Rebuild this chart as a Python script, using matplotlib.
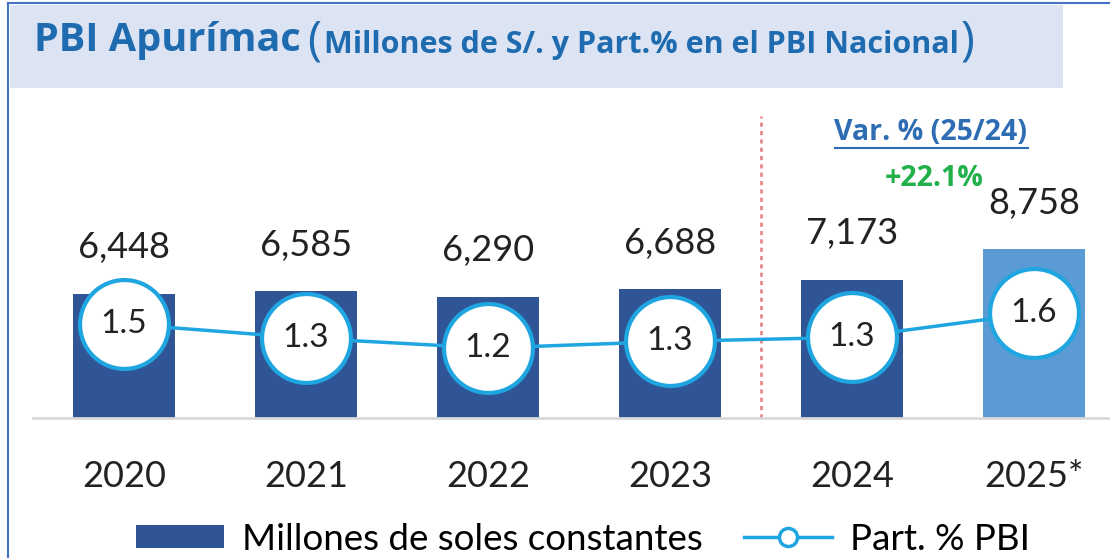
import matplotlib
matplotlib.use("Agg")
import matplotlib.pyplot as plt
from matplotlib.patches import Rectangle
from matplotlib.lines import Line2D

plt.rcParams['font.family'] = ['Lato', 'DejaVu Sans']

# datos
years = ['2020', '2021', '2022', '2023', '2024', '2025*']
pbi = [6448, 6585, 6290, 6688, 7173, 8758]
part = [1.50, 1.33, 1.21, 1.29, 1.34, 1.63]
part_labels = ['1.5', '1.3', '1.2', '1.3', '1.3', '1.6']
var_label = '+22.1%'

dark = '#2F5597'
light = '#5B9BD5'
line_col = '#1FA5DF'
title_col = '#1E6BB0'

fig = plt.figure(figsize=[11.1, 5.58], dpi=100)
W, H = 1110, 558

def fx(px):
    return px / W

def fy(py):
    return 1 - py / H

# banner del titulo
fig.patches.append(Rectangle((fx(10), fy(88)), fx(1053), 83 / H, transform=fig.transFigure,
                             facecolor='#DCE3F3', edgecolor='none', zorder=0))
fig.add_artist(Line2D([fx(8), 1], [fy(3), fy(3)], color='#4472C4', lw=1.5))
fig.add_artist(Line2D([fx(8), fx(8)], [fy(3), 0], color='#4472C4', lw=1.5))

fig.canvas.draw()
rend = fig.canvas.get_renderer()

def after(t, gap):
    return t.get_window_extent(rend).x1 / W + gap / W

t1 = fig.text(fx(34), fy(40), 'PBI Apurímac', fontsize=28.5, fontweight='bold', color=title_col,
              va='center', family='Open Sans')
t2 = fig.text(after(t1, 6), fy(42), '(', fontsize=34, color=title_col, va='center', family='Open Sans')
t3 = fig.text(after(t2, 3), fy(45), 'Millones de S/. y Part.% en el PBI Nacional', fontsize=22,
              fontweight='bold', color=title_col, va='center', family='Open Sans')
t4 = fig.text(after(t3, 2), fy(42), ')', fontsize=34, color=title_col, va='center', family='Open Sans')

# grafico
ax = fig.add_axes([fx(33), fy(418), 1 - fx(33), (418 - 95) / H])
x = list(range(len(years)))
colors = [dark] * 5 + [light]
ax.bar(x, pbi, width=0.565, color=colors, zorder=2)
ax.set_xlim(-0.5, 5.418)
ax.set_ylim(0, 16735)
for s in ['top', 'right', 'left']:
    ax.spines[s].set_visible(False)
ax.spines['bottom'].set_color('#D9D9D9')
ax.spines['bottom'].set_linewidth(2)
ax.set_yticks([])
ax.set_xticks(x)
ax.set_xticklabels(years, fontsize=26, color='#222222')
ax.tick_params(axis='x', length=0, pad=30)

for i, v in enumerate(pbi):
    ax.annotate(f'{v:,}', (i, v), xytext=(0, 21), textcoords='offset points',
                ha='center', va='bottom', fontsize=26, color='#222222')

ax2 = ax.twinx()
ax2.set_ylim(0.367, 4.26)
ax2.axis('off')
ax2.plot(x, part, color=line_col, lw=2.5, marker='o', ms=64, mfc='white',
         mec=line_col, mew=3, zorder=3)
for i, v in enumerate(part):
    ax2.text(i, v, part_labels[i], ha='center', va='center', fontsize=24, color='#222222', zorder=4)

# linea divisoria
ax.axvline(3.5, ymin=0, ymax=(418 - 116) / 323, color='#E58A8A', lw=2, ls=(0, (1.5, 1.5)), zorder=1)

t = fig.text(fx(931), fy(133), 'Var. % (25/24)', fontsize=20.5, fontweight='bold', color='#2E6DB4',
             ha='center', va='center', family='Open Sans')
bb = t.get_window_extent(rend)
fig.add_artist(Line2D([bb.x0 / W, bb.x1 / W], [fy(148), fy(148)], color='#2E6DB4', lw=1.5))
fig.text(fx(934), fy(178), var_label, fontsize=20.5, fontweight='bold', color='#22B04B',
         ha='center', va='center', family='Open Sans')

# leyenda
handles = [Rectangle((0, 0), 1, 1, facecolor=dark),
           Line2D([], [], color=line_col, lw=2.5, marker='o', ms=13, mfc='white', mec=line_col, mew=2.5)]
fig.legend(handles, ['Millones de soles constantes', 'Part. % PBI'], loc='center',
           bbox_to_anchor=(fx(583), fy(539)), ncol=2, frameon=False, fontsize=26.5,
           handlelength=2.4, handleheight=0.6, columnspacing=1.1, handletextpad=0.5,
           borderpad=0, borderaxespad=0)

fig.savefig('out.png', dpi=100)
